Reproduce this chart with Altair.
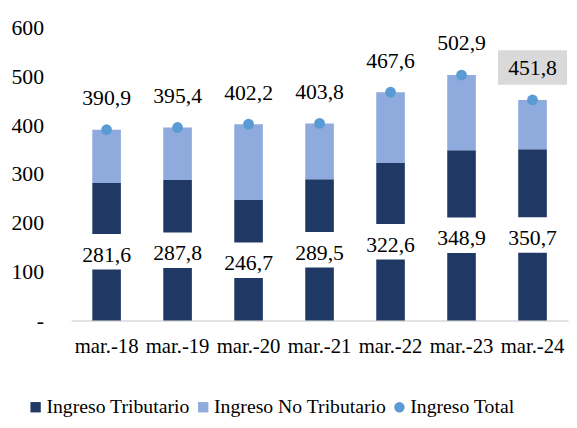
import altair as alt
import pandas as pd

periodos = ["mar.-18", "mar.-19", "mar.-20", "mar.-21", "mar.-22", "mar.-23", "mar.-24"]
tributario = [281.6, 287.8, 246.7, 289.5, 322.6, 348.9, 350.7]
no_tributario = [109.3, 107.6, 155.5, 114.3, 145.0, 154.0, 101.1]
total = [390.9, 395.4, 402.2, 403.8, 467.6, 502.9, 451.8]
series = ["Ingreso Tributario", "Ingreso No Tributario", "Ingreso Total"]
colores = ["#203864", "#8faadc", "#5b9bd5"]
formas = ["square", "square", "circle"]
resaltado = ["mar.-24"]

FONT = "Liberation Serif, Times New Roman, serif"


def fmt(v):
    return f"{v:.1f}".replace(".", ",")


rows = []
for p, t, n in zip(periodos, tributario, no_tributario):
    rows.append({"periodo": p, "serie": series[0], "valor": t, "orden": 0})
    rows.append({"periodo": p, "serie": series[1], "valor": n, "orden": 1})
df_bars = pd.DataFrame(rows)

df_wide = pd.DataFrame({
    "periodo": periodos,
    "trib": tributario,
    "total": total,
    "trib_lbl": [fmt(v) for v in tributario],
    "total_lbl": [fmt(v) for v in total],
    "serie": [series[2]] * len(periodos),
})

x = alt.X("periodo:N", sort=periodos, title=None,
          scale=alt.Scale(paddingInner=0.6, paddingOuter=0.3),
          axis=alt.Axis(labelAngle=0, ticks=False, tickSize=0, domainColor="#d9d9d9",
                        domainWidth=1.5, labelPadding=15, labelFont=FONT,
                        labelFontSize=21, labelColor="black"))
yscale = alt.Scale(domain=[0, 600], nice=False)
color = alt.Color("serie:N", scale=alt.Scale(domain=series, range=colores),
                  legend=alt.Legend(title=None, orient="none", legendX=-46, legendY=375,
                                    direction="horizontal", labelFont=FONT,
                                    labelFontSize=20, labelColor="black",
                                    labelLimit=400,
                                    symbolSize=110, symbolStrokeWidth=0,
                                    columnPadding=3, labelOffset=1))

bars = alt.Chart(df_bars).mark_bar(size=29).encode(
    x=x,
    y=alt.Y("valor:Q", stack="zero", scale=yscale, title=None,
            axis=alt.Axis(values=[0, 100, 200, 300, 400, 500, 600], grid=False,
                          domain=False, ticks=False, tickSize=0, labelPadding=28,
                          labelFont=FONT, labelFontSize=22, labelColor="black",
                          labelExpr="datum.value == 0 ? '-' : datum.label")),
    color=color,
    order=alt.Order("orden:Q"),
)

base = alt.Chart(df_wide).transform_calculate(mid="datum.trib / 2")

white_box = base.mark_square(size=1296, color="white", opacity=1).encode(
    x=x, y=alt.Y("mid:Q", scale=yscale))

trib_text = base.mark_text(font=FONT, fontSize=22, baseline="middle", dy=3,
                           color="black").encode(
    x=x, y=alt.Y("mid:Q", scale=yscale), text="trib_lbl:N")

points = alt.Chart(df_wide).mark_point(filled=True, size=120, opacity=1).encode(
    x=x, y=alt.Y("total:Q", scale=yscale),
    color=color,
    shape=alt.Shape("serie:N", scale=alt.Scale(domain=series, range=formas),
                    legend=alt.Legend(title=None)),
)

grey_box = alt.Chart(df_wide).transform_filter(
    alt.FieldOneOfPredicate(field="periodo", oneOf=resaltado)
).mark_point(shape="M-1,-0.5H1V0.5H-1Z", size=4900, filled=True, fill="#d9d9d9",
             opacity=1, yOffset=-33).encode(
    x=x, y=alt.Y("total:Q", scale=yscale))

total_text = alt.Chart(df_wide).mark_text(font=FONT, fontSize=22, baseline="middle",
                                          dy=-32, color="black").encode(
    x=x, y=alt.Y("total:Q", scale=yscale), text="total_lbl:N")

chart = alt.layer(bars, white_box, trib_text, points, grey_box, total_text).properties(
    width=504, height=297,
    autosize=alt.AutoSizeParams(type="none"),
    padding={"left": 64, "top": 17, "right": 1, "bottom": 98},
    background="white",
).configure_view(stroke=None)

chart.save("out.html", embed_options={"renderer": "svg", "actions": False})
